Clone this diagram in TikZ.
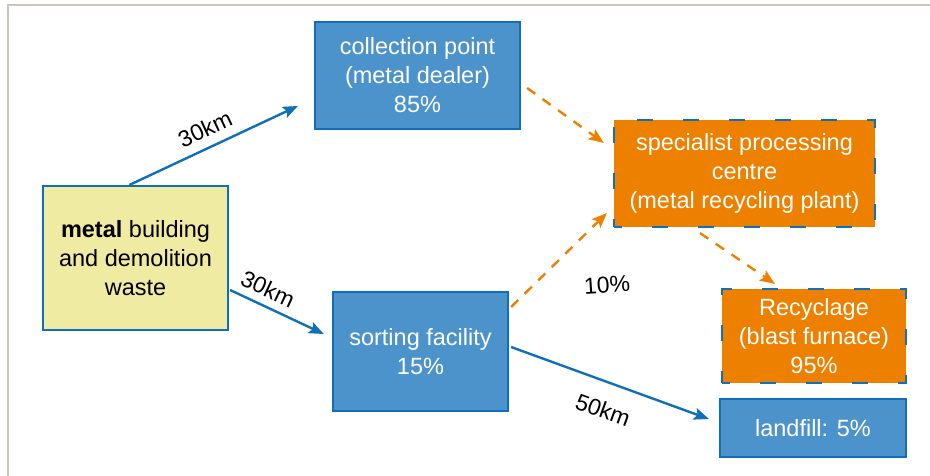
\documentclass[tikz,border=0pt]{standalone}
\usepackage{fontspec}
\setmainfont{Liberation Sans}
\usetikzlibrary{arrows.meta}
\definecolor{boxblue}{HTML}{4C93CC}
\definecolor{edgeblue}{HTML}{0F6FB8}
\definecolor{procorange}{HTML}{EE8000}
\definecolor{wasteyellow}{HTML}{F0EBA2}
\definecolor{framegrey}{HTML}{C9C5BD}
\tikzset{
  x=1pt, y=-1pt,
  txt/.style={font=\fontsize{23.5}{29}\selectfont, align=center, inner sep=0pt},
  bluebox/.style={txt, rectangle, fill=boxblue, draw=edgeblue, line width=2.2pt, text=white},
  orangebox/.style={txt, rectangle, fill=procorange, draw=edgeblue, line width=2.2pt, text=white,
    dash pattern=on 16pt off 30pt, dash phase=8pt},
  wastebox/.style={txt, rectangle, fill=wasteyellow, draw=edgeblue, line width=2.2pt, text=black},
  flow/.style={draw=edgeblue, line width=2.4pt, -{Stealth[length=15pt,width=12pt,inset=3pt]}},
  recycleflow/.style={draw=procorange, line width=2.4pt, dash pattern=on 10pt off 9pt,
    -{Stealth[length=15pt,width=12pt,inset=3pt]}},
  dist/.style={font=\fontsize{23}{26}\selectfont, inner sep=0pt, text=black}
}
\begin{document}
\begin{tikzpicture}
\useasboundingbox (0,0) rectangle (930,476);
% page frame
\draw[framegrey, line width=2pt] (930,5) -- (8,5) -- (8,476);

% boxes
\node[bluebox, minimum width=205pt, minimum height=107pt] (coll) at (417.5,75.5)
  {collection point\\(metal dealer)\\85\%};
\node[orangebox, minimum width=261pt, minimum height=107pt] (spec) at (744.5,173.5)
  {specialist processing\\centre\\(metal recycling plant)};
\node[wastebox, minimum width=185pt, minimum height=144pt] (waste) at (135.5,258)
  {\textbf{metal} building\\and demolition\\waste};
\node[bluebox, minimum width=175pt, minimum height=119pt] (sort) at (420.5,351.5)
  {sorting facility\\15\%};
\node[orangebox, minimum width=184pt, minimum height=94pt] (recy) at (814,336)
  {Recyclage\\(blast furnace)\\95\%};
\node[bluebox, minimum width=186pt, minimum height=58pt] (land) at (813,428)
  {landfill: 5\%};

% transport routes
\draw[flow] ([shift={(-6,0)}]waste.north) -- ([shift={(-16,30.5)}]coll.west);
\draw[flow] ([shift={(1,32)}]waste.east) -- ([shift={(-8,-17.5)}]sort.west);
\draw[flow] ([shift={(2,-4.5)}]sort.east) -- ([shift={(-10,-9)}]land.west);
% recycling routes
\draw[recycleflow] ([shift={(6,12.5)}]coll.east) -- ([shift={(-9,-30.5)}]spec.west);
\draw[recycleflow] ([shift={(2,-44.5)}]sort.east) -- ([shift={(-6,39.5)}]spec.west);
\draw[recycleflow] ([shift={(-44.5,5)}]spec.south) -- ([shift={(-39,-4)}]recy.north);

% route labels
\node[dist, rotate=25] (d1) at (205,129) {30km};
\node[dist, rotate=-25] (d2) at (268,289) {30km};
\node[dist, rotate=4] (d3) at (607,285) {10\%};
\node[dist, rotate=-20] (d4) at (603,410) {50km};
\end{tikzpicture}
\end{document}
